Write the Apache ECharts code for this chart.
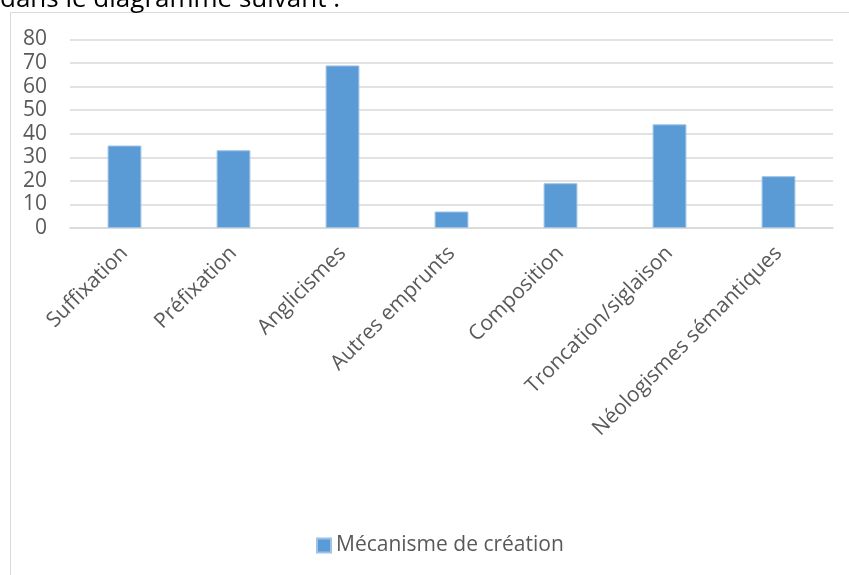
<!DOCTYPE html>
<html>
<head>
<meta charset="utf-8">
<script src="https://cdn.jsdelivr.net/npm/echarts@6/dist/echarts.min.js"></script>
<style>
  html, body { margin: 0; padding: 0; background: #fff; }
  #chart { width: 849px; height: 575px; }
</style>
</head>
<body>
<div id="chart"></div>
<script>
// Mécanismes de création néologique
const categories = ['Suffixation', 'Préfixation', 'Anglicismes', 'Autres emprunts', 'Composition', 'Troncation/siglaison', 'Néologismes sémantiques'];
const values = [35, 33, 69, 7, 19, 44, 22];
const seriesName = 'Mécanisme de création';
const yTicks = [0, 10, 20, 30, 40, 50, 60, 70, 80];

const font = '"Open Sans", Lato, sans-serif';
const textColor = '#595959';

const chart = echarts.init(document.getElementById('chart'), null, { renderer: 'canvas' });
chart.setOption({
  animation: false,
  backgroundColor: '#fff',
  graphic: [
    {
      // trailing line of the preceding paragraph, clipped by the page top
      type: 'text', x: 0, y: -13, z: 10,
      style: { text: 'dans le diagramme suivant :', font: '26px ' + font, fill: '#000' }
    },
    {
      type: 'rect', shape: { x: 10.5, y: 12.5, width: 900, height: 700 },
      style: { fill: 'none', stroke: '#d9d9d9', lineWidth: 1 }, z: 0
    }
  ],
  legend: {
    data: [seriesName],
    bottom: 14,
    left: 311,
    icon: 'rect',
    itemWidth: 14, itemHeight: 14, itemGap: 6,
    textStyle: { fontFamily: font, fontSize: 21, color: textColor }
  },
  grid: { left: 70, right: 16, top: 39.5, bottom: 347, containLabel: false },
  xAxis: {
    type: 'category',
    data: categories,
    axisLine: { lineStyle: { color: '#d9d9d9', width: 1.5 } },
    axisTick: { show: false },
    axisLabel: {
      rotate: 45, interval: 0, margin: 22,
      fontFamily: font, fontSize: 21, color: textColor
    }
  },
  yAxis: {
    type: 'value',
    min: yTicks[0], max: yTicks[yTicks.length - 1], interval: 10,
    axisLine: { show: false },
    axisTick: { show: false },
    splitLine: { lineStyle: { color: '#d9d9d9', width: 1.5 } },
    axisLabel: { margin: 23, fontFamily: font, fontSize: 21, color: textColor }
  },
  series: [{
    name: seriesName,
    type: 'bar',
    data: values,
    barWidth: '31%',
    itemStyle: { color: '#5b9bd5', borderColor: '#9dc3e6', borderWidth: 1 }
  }]
});
</script>
</body>
</html>
